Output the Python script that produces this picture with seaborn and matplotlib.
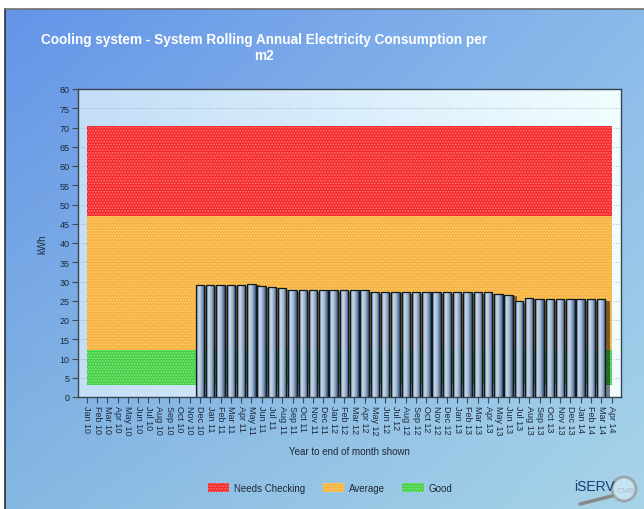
import numpy as np
import pandas as pd
import matplotlib
matplotlib.use("Agg")
import matplotlib.pyplot as plt
import seaborn as sns
from matplotlib import patheffects as pe
from matplotlib.patches import Rectangle, Patch, Circle
from matplotlib.lines import Line2D

# ---------------- data ----------------
months = ["Jan 10", "Feb 10", "Mar 10", "Apr 10", "May 10", "Jun 10", "Jul 10", "Aug 10",
          "Sep 10", "Oct 10", "Nov 10", "Dec 10",
          "Jan 11", "Feb 11", "Mar 11", "Apr 11", "May 11", "Jun 11", "Jul 11", "Aug 11",
          "Sep 11", "Oct 11", "Nov 11", "Dec 11",
          "Jan 12", "Feb 12", "Mar 12", "Apr 12", "May 12", "Jun 12", "Jul 12", "Aug 12",
          "Sep 12", "Oct 12", "Nov 12", "Dec 12",
          "Jan 13", "Feb 13", "Mar 13", "Apr 13", "May 13", "Jun 13", "Jul 13", "Aug 13",
          "Sep 13", "Oct 13", "Nov 13", "Dec 13",
          "Jan 14", "Feb 14", "Mar 14", "Apr 14"]

bar_months = months[11:51]  # Dec 10 .. Mar 14
bar_values = [29.2,
              29.2, 29.2, 29.2, 29.2, 29.4, 28.8, 28.6, 28.2, 27.7, 27.7, 27.7, 27.7,
              27.7, 27.7, 27.7, 27.7, 27.2, 27.4, 27.4, 27.2, 27.2, 27.2, 27.2, 27.2,
              27.2, 27.2, 27.2, 27.2, 26.7, 26.5, 24.9, 25.7, 25.35, 25.35, 25.35, 25.35,
              25.35, 25.35, 25.35]

good_low = 3.0
good_high = 12.3
average_high = 47.1
needs_high = 70.5

band_names = ["Needs Checking", "Average", "Good"]
band_colors = ["#f42a2a", "#f6b23e", "#46d046"]
band_dots = ["#ff7a7a", "#ffcf7a", "#8ae88a"]

yticks = list(range(0, 85, 5))

# ---------------- figure ----------------
W, H = 644, 510
fig = plt.figure(figsize=(W / 100, H / 100), dpi=100)
fig.patch.set_facecolor("white")
plt.rcParams["hatch.linewidth"] = 0.8

# background gradient
bg = fig.add_axes([5 / W, 0, 1 - 5 / W, 1 - 10 / H], zorder=-10)
tl = np.array([100, 148, 232]); tr = np.array([138, 186, 234])
bl = np.array([134, 184, 226]); br = np.array([168, 212, 232])
u = np.linspace(0, 1, 200)[None, :, None]
v = np.linspace(0, 1, 160)[:, None, None]
img = (tl * (1 - u) * (1 - v) + tr * u * (1 - v) + bl * (1 - u) * v + br * u * v) / 255
bg.imshow(img, aspect="auto", extent=[0, 1, 0, 1], origin="upper")
bg.set_xlim(0, 1); bg.set_ylim(0, 1)
bg.set_xticks([]); bg.set_yticks([])
for s in ["right", "bottom"]:
    bg.spines[s].set_visible(False)
bg.spines["left"].set_color("#303030"); bg.spines["left"].set_linewidth(1.2)
bg.spines["top"].set_color("#707070"); bg.spines["top"].set_linewidth(1.2)

sns.set_style("ticks")
plt.rcParams["font.family"] = ["Liberation Sans", "DejaVu Sans"]

ax = fig.add_axes([78 / W, 1 - 398 / H, (621 - 78) / W, (398 - 90) / H])
ax.set_facecolor("none")

df = pd.DataFrame({"month": bar_months, "kWh": bar_values})
sns.barplot(data=df, x="month", y="kWh", order=months, width=0.82,
            color="#7a96b8", edgecolor="none", linewidth=0, ax=ax, zorder=2.8)

x = np.arange(len(months))
XL = (-0.85, 51.92)
YL = (0, 80)

# plot area gradient background
pg = np.linspace(0, 1, 100)[None, :, None]
c0 = np.array([196, 222, 248]) / 255; c1 = np.array([240, 254, 255]) / 255
ax.imshow(c0 * (1 - pg) + c1 * pg, aspect="auto", extent=[XL[0], XL[1], YL[0], YL[1]],
          zorder=0)

# bands
lows = [average_high, good_high, good_low]
highs = [needs_high, average_high, good_high]
for lo, hi, c, d in zip(lows, highs, band_colors, band_dots):
    ax.fill_between(x, lo, hi, facecolor=c, edgecolor=d, hatch="......", linewidth=0,
                    zorder=1.5)

# bar styling: shadow, cylinder gradient, outline
stops = np.array([0, 0.08, 0.3, 0.6, 0.85, 1.0])
cols = np.array([[46, 72, 108], [110, 140, 176], [206, 218, 232], [160, 182, 208],
                 [92, 122, 160], [52, 78, 114]]) / 255
gx = np.linspace(0, 1, 64)
grad = np.stack([np.interp(gx, stops, cols[:, i]) for i in range(3)], axis=-1)[None]
for p in list(ax.patches):
    if not isinstance(p, Rectangle) or p.get_height() <= 0:
        continue
    bx, by, bw, bh = p.get_x(), p.get_y(), p.get_width(), p.get_height()
    p.set_path_effects([pe.SimplePatchShadow(offset=(3, -1), shadow_rgbFace="black",
                                             alpha=0.5), pe.Normal()])
    im = ax.imshow(grad, aspect="auto", extent=[bx, bx + bw, by, by + bh], zorder=2.9)
    im.set_clip_path(p)
    ax.add_patch(Rectangle((bx, by), bw, bh, facecolor="none", edgecolor="#101820",
                           linewidth=0.9, zorder=3))

ax.set_xlim(*XL)
ax.set_ylim(*YL)
ax.set_yticks(yticks)
ax.set_yticklabels([str(t) for t in yticks], fontsize=6.5, color="#202838")
ax.set_xticks(x)
ax.set_xticklabels(months, rotation=270, fontsize=6.5, color="#202838")
ax.tick_params(axis="both", length=4, width=0.8, color="#404850", pad=2)
ax.yaxis.grid(True, linestyle=(0, (1, 2)), color="#9aa4b0", linewidth=0.6, zorder=0.5)
ax.set_axisbelow(True)
for s in ax.spines.values():
    s.set_visible(True)
    s.set_color("#3a4450")
    s.set_linewidth(1.0)
ax.set_xlabel("Year to end of month shown", fontsize=7, color="#202838", labelpad=8)
ax.set_ylabel("kWh", fontsize=7, color="#202838", labelpad=9)

# title
fig.text(264 / W, 1 - 48 / H,
         "Cooling system - System Rolling Annual Electricity Consumption per\nm2",
         ha="center", va="center", color="white", fontsize=9.8, fontweight="bold",
         linespacing=1.25)

# legend
handles = [Patch(facecolor=c, edgecolor=d, hatch="......", linewidth=0)
           for c, d in zip(band_colors, band_dots)]
fig.legend(handles, band_names, loc="center", bbox_to_anchor=(330 / W, 1 - 489 / H),
           ncol=3, frameon=False, fontsize=7, handlelength=2.2, handleheight=1.0,
           columnspacing=1.8, handletextpad=0.5, labelcolor="#202838")

# logo
ov = fig.add_axes([0, 0, 1, 1], zorder=5)
ov.set_xlim(0, W); ov.set_ylim(H, 0); ov.axis("off")
ov.add_line(Line2D([580, 612], [505, 497], color="#888888", linewidth=2.5,
                   solid_capstyle="round"))
ov.add_patch(Circle((624, 490), 12, facecolor="#c8e4f0", edgecolor="#9aa0a8",
                    linewidth=2, alpha=0.9))
ov.text(626, 492, "CMB", fontsize=6, color="#a8c0d0", ha="center", va="center")
ov.text(594, 487, "iSERV", fontsize=10, color="#1c3c78", ha="center", va="center")

fig.savefig("out.png", dpi=100)
